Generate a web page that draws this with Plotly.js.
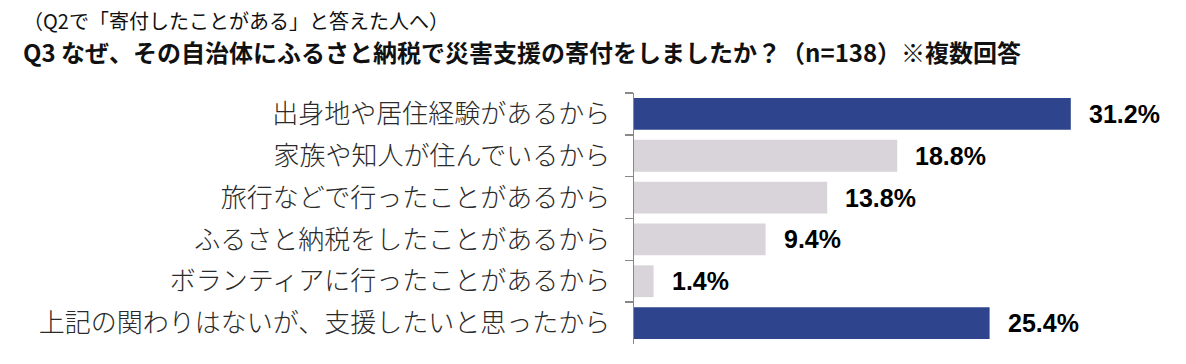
<!DOCTYPE html>
<html>
<head>
<meta charset="utf-8">
<script src="https://cdn.plot.ly/plotly-3.0.1.min.js"></script>
<style>
  html, body { margin: 0; padding: 0; background: #ffffff; }
  #chart { width: 1186px; height: 364px; }
</style>
</head>
<body>
<div id="chart"></div>
<script>
const subtitle = "（Q2で「寄付したことがある」と答えた人へ）";
const title = "Q3 なぜ、その自治体にふるさと納税で災害支援の寄付をしましたか？（n=138）※複数回答";
const categories = [
  "出身地や居住経験があるから",
  "家族や知人が住んでいるから",
  "旅行などで行ったことがあるから",
  "ふるさと納税をしたことがあるから",
  "ボランティアに行ったことがあるから",
  "上記の関わりはないが、支援したいと思ったから"
];
const values = [31.2, 18.8, 13.8, 9.4, 1.4, 25.4];

const NAVY = "#2E448D";
const GRAY = "#D9D4D9";
const barColors = [NAVY, GRAY, GRAY, GRAY, GRAY, NAVY];

const jp = '"Noto Sans CJK JP", "Noto Sans", sans-serif';

const trace = {
  type: "bar",
  orientation: "h",
  x: values,
  y: categories,
  marker: { color: barColors, line: { width: 0 } },
  width: 0.76,
  hoverinfo: "none"
};

const valueLabels = values.map((v, i) => ({
  x: v,
  y: categories[i],
  xref: "x",
  yref: "y",
  text: "<b>" + v.toFixed(1) + "%</b>",
  showarrow: false,
  xanchor: "left",
  yanchor: "middle",
  xshift: 16,
  font: { family: '"Liberation Sans", Arial, sans-serif', size: 25, color: "#000000" }
}));

const titleAnns = [
  {
    text: subtitle,
    xref: "paper", yref: "paper",
    x: -1.152, y: 1.29,
    xanchor: "left", yanchor: "middle",
    showarrow: false,
    font: { family: jp, size: 20, color: "#111111" }
  },
  {
    text: "<b>" + title + "</b>",
    xref: "paper", yref: "paper",
    x: -1.152, y: 1.165,
    xanchor: "left", yanchor: "middle",
    showarrow: false,
    font: { family: jp, size: 24, color: "#111111" }
  }
];

const layout = {
  width: 1186,
  height: 364,
  margin: { l: 634, r: 20, t: 93, b: 20, pad: 0 },
  paper_bgcolor: "#ffffff",
  plot_bgcolor: "#ffffff",
  showlegend: false,
  bargap: 0.24,
  xaxis: {
    range: [0, 38],
    visible: false,
    fixedrange: true
  },
  yaxis: {
    autorange: "reversed",
    showline: true,
    linecolor: "#888888",
    linewidth: 1.5,
    ticks: "outside",
    tickson: "boundaries",
    ticklen: 8,
    tickcolor: "#888888",
    tickwidth: 1.5,
    showgrid: false,
    zeroline: false,
    ticklabelstandoff: 17,
    tickfont: { family: jp, size: 26, color: "#2a2a2a", weight: 300 },
    fixedrange: true
  },
  annotations: titleAnns.concat(valueLabels)
};

Plotly.newPlot("chart", [trace], layout, { displayModeBar: false, staticPlot: true });
</script>
</body>
</html>
